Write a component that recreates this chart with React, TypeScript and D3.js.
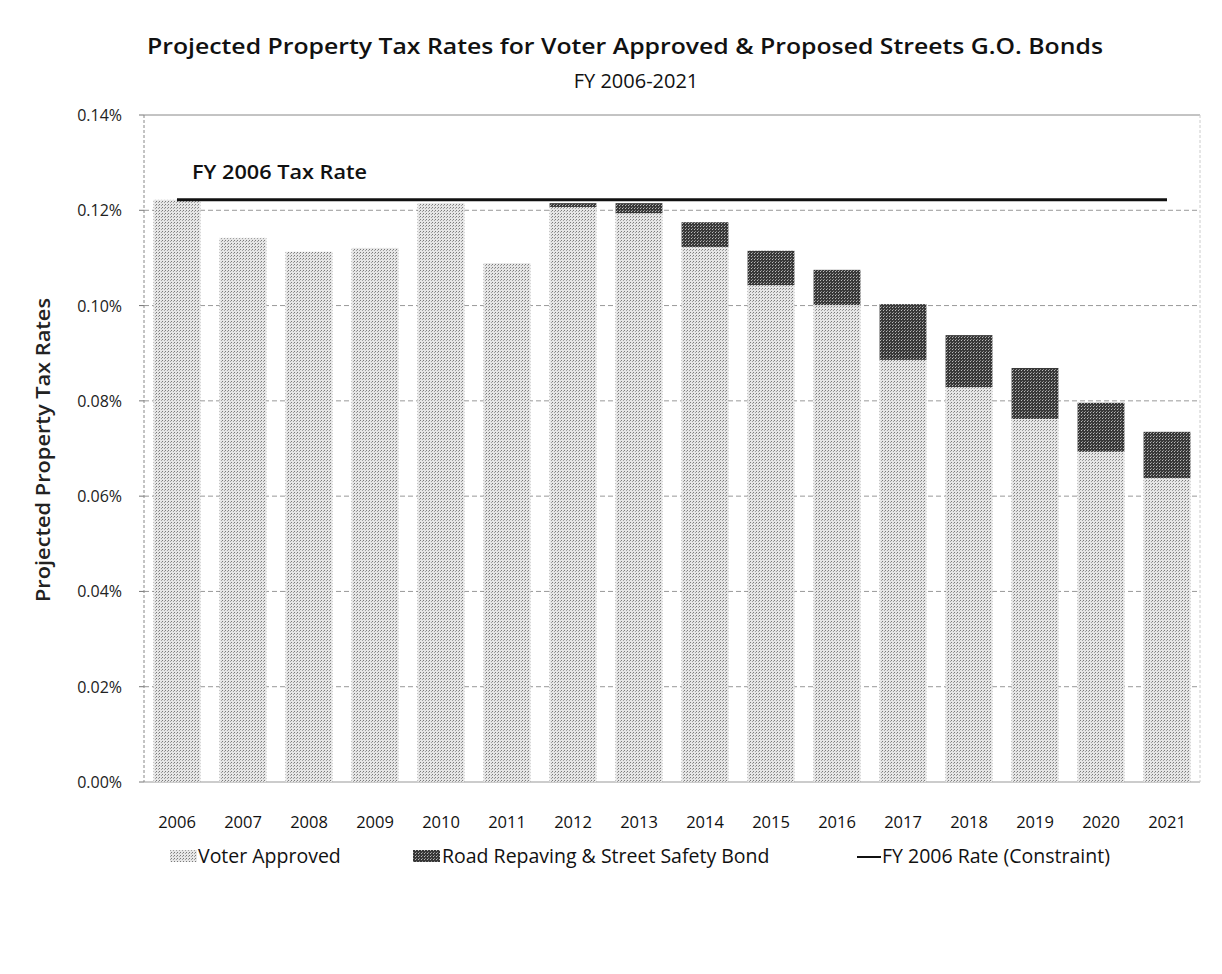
import React from "react";
import * as d3 from "d3";

const years = ["2006","2007","2008","2009","2010","2011","2012","2013","2014","2015","2016","2017","2018","2019","2020","2021"];
const voterApproved = [0.1222,0.1142,0.1113,0.1121,0.1215,0.1089,0.1207,0.1194,0.1123,0.1043,0.1001,0.0886,0.0829,0.0762,0.0693,0.0638];
const bondRates = [0,0,0,0,0,0,0.0008,0.0021,0.0052,0.0072,0.0074,0.0117,0.0109,0.0107,0.0103,0.0097];
const constraintRate = years.map(() => 0.1222);
const yTicks = [0,0.02,0.04,0.06,0.08,0.10,0.12,0.14];

const W = 1222, H = 974;
const m = { left: 144, right: 1200, top: 115, bottom: 782 };
const font = "'Open Sans', Lato, sans-serif";

export default function App() {
  const x = d3.scaleBand().domain(years).range([m.left, m.right]).paddingInner(0.29).paddingOuter(0.145);
  const y = d3.scaleLinear().domain([0, 0.14]).range([m.bottom, m.top]);
  const line = d3.line<number>().x((_, i) => (x(years[i]) as number) + x.bandwidth() / 2).y(d => y(d));
  return (
    <svg width={W} height={H - 20} style={{ display: "block", margin: "-8px" }} viewBox={`0 0 ${W} ${H - 20}`}>
      <defs>
        <pattern id="light" width="3" height="3" patternUnits="userSpaceOnUse">
          <rect width="3" height="3" fill="#e6e6e6" />
          <rect x="0" y="0" width="1" height="1" fill="#7a7a7a" />
          <rect x="2" y="1" width="1" height="1" fill="#a0a0a0" />
        </pattern>
        <pattern id="dark" width="3" height="3" patternUnits="userSpaceOnUse">
          <rect width="3" height="3" fill="#383838" />
          <rect x="1" y="1" width="1" height="1" fill="#bbb" />
          <rect x="2" y="0" width="1" height="1" fill="#888" />
        </pattern>
      </defs>
      <rect x="0" y="0" width={W} height={H} fill="#fff" />
      <line x1={3} x2={3} y1={5} y2={H} stroke="#555" strokeWidth={1.5} strokeDasharray="6,2" />
      <line x1={3} x2={W} y1={5} y2={5} stroke="#333" strokeWidth={2} />
      <text x={147} y={54} textLength={956} lengthAdjust="spacingAndGlyphs" fontFamily={font} fontWeight="600" fontSize={22} fill="#111">
        Projected Property Tax Rates for Voter Approved &amp; Proposed Streets G.O. Bonds
      </text>
      <text x={636} y={88} textAnchor="middle" fontFamily={font} fontSize={20} fill="#111">FY 2006-2021</text>
      {yTicks.map(t => (
        <g key={t}>
          <line x1={m.left} x2={m.right} y1={y(t)} y2={y(t)} stroke={t === 0.14 ? "#888" : "#999"} strokeWidth={1} strokeDasharray={t === 0 || t === 0.14 ? "none" : "5,3"} />
          <line x1={m.left - 5} x2={m.left} y1={y(t)} y2={y(t)} stroke="#777" />
          <text x={122} y={y(t) + 6} textAnchor="end" fontFamily={font} fontSize={16} fill="#222">{t.toFixed(2) + "%"}</text>
        </g>
      ))}
      <line x1={m.left} x2={m.left} y1={m.top} y2={m.bottom} stroke="#888" strokeDasharray="3,2" />
      <line x1={m.right} x2={m.right} y1={m.top} y2={m.bottom} stroke="#ccc" strokeDasharray="3,2" />
      {years.map((yr, i) => (
        <g key={yr}>
          <rect x={x(yr)} y={y(voterApproved[i])} width={x.bandwidth()} height={y(0) - y(voterApproved[i])} fill="url(#light)" />
          {bondRates[i] > 0 && (
            <rect x={x(yr)} y={y(voterApproved[i] + bondRates[i])} width={x.bandwidth()} height={y(voterApproved[i]) - y(voterApproved[i] + bondRates[i])} fill="url(#dark)" />
          )}
          <text x={(x(yr) as number) + x.bandwidth() / 2} y={828} textAnchor="middle" fontFamily={font} fontSize={16.5} fill="#111">{yr}</text>
        </g>
      ))}
      <path d={line(constraintRate) as string} fill="none" stroke="#111" strokeWidth={3} />
      <text x={192} y={179} textLength={175} lengthAdjust="spacingAndGlyphs" fontFamily={font} fontWeight="600" fontSize={20} fill="#111">FY 2006 Tax Rate</text>
      <text transform={`translate(50,${450}) rotate(-90)`} textAnchor="middle" textLength={304} lengthAdjust="spacingAndGlyphs" fontFamily={font} fontWeight="600" fontSize={20} fill="#222">Projected Property Tax Rates</text>
      <g fontFamily={font} fontSize={19.5} fill="#111">
        <rect x={170} y={850} width={27} height={12} fill="url(#light)" />
        <text x={198} y={863}>Voter Approved</text>
        <rect x={413} y={850} width={27} height={12} fill="url(#dark)" />
        <text x={442} y={863}>Road Repaving &amp; Street Safety Bond</text>
        <line x1={857} x2={881} y1={857} y2={857} stroke="#111" strokeWidth={2} />
        <text x={882} y={863}>FY 2006 Rate (Constraint)</text>
      </g>
    </svg>
  );
}
